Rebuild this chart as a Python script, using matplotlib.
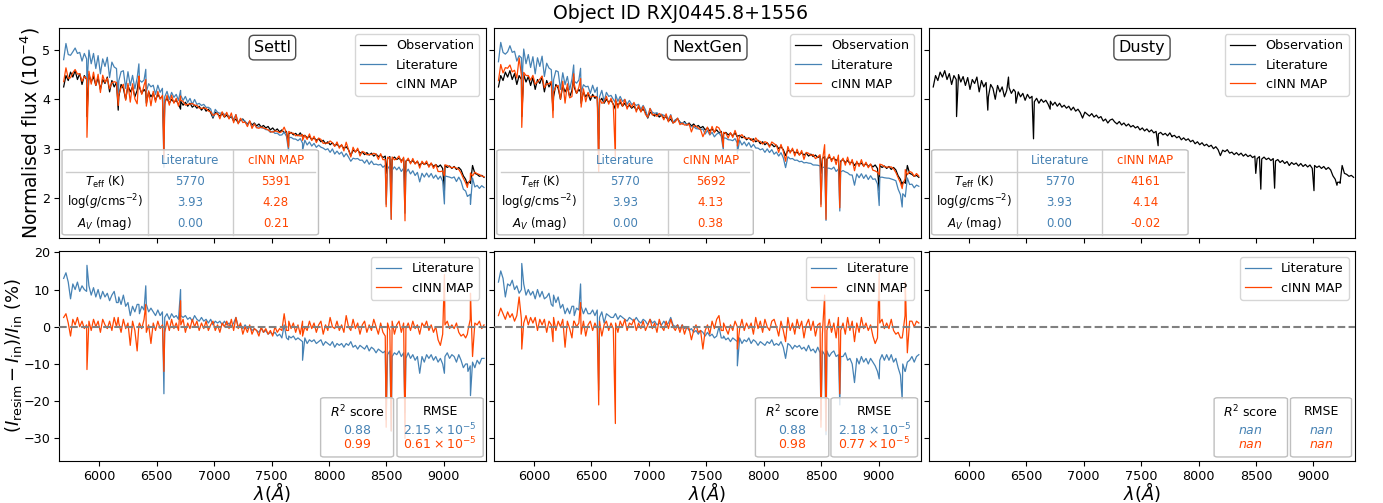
import numpy as np
import matplotlib
matplotlib.use("Agg")
import matplotlib.pyplot as plt
from matplotlib.patches import FancyBboxPatch

wave = [5690, 5710, 5730, 5750, 5770, 5790, 5810, 5830, 5850, 5870,
        5890, 5910, 5930, 5950, 5970, 5990, 6010, 6030, 6050, 6070,
        6090, 6110, 6130, 6150, 6170, 6190, 6210, 6230, 6250, 6270,
        6290, 6310, 6330, 6350, 6370, 6390, 6410, 6430, 6450, 6470,
        6490, 6510, 6530, 6550, 6570, 6590, 6610, 6630, 6650, 6670,
        6690, 6710, 6730, 6750, 6770, 6790, 6810, 6830, 6850, 6870,
        6890, 6910, 6930, 6950, 6970, 6990, 7010, 7030, 7050, 7070,
        7090, 7110, 7130, 7150, 7170, 7190, 7210, 7230, 7250, 7270,
        7290, 7310, 7330, 7350, 7370, 7390, 7410, 7430, 7450, 7470,
        7490, 7510, 7530, 7550, 7570, 7590, 7610, 7630, 7650, 7670,
        7690, 7710, 7730, 7750, 7770, 7790, 7810, 7830, 7850, 7870,
        7890, 7910, 7930, 7950, 7970, 7990, 8010, 8030, 8050, 8070,
        8090, 8110, 8130, 8150, 8170, 8190, 8210, 8230, 8250, 8270,
        8290, 8310, 8330, 8350, 8370, 8390, 8410, 8430, 8450, 8470,
        8490, 8510, 8530, 8550, 8570, 8590, 8610, 8630, 8650, 8670,
        8690, 8710, 8730, 8750, 8770, 8790, 8810, 8830, 8850, 8870,
        8890, 8910, 8930, 8950, 8970, 8990, 9010, 9030, 9050, 9070,
        9090, 9110, 9130, 9150, 9170, 9190, 9210, 9230, 9250, 9270,
        9290, 9310, 9330, 9350]

# observed flux (1e-4), continuum part
obs = [4.25, 4.48, 4.38, 4.55, 4.45, 4.58, 4.40, 4.52, 4.30, 4.48,
       4.40, 4.50, 4.35, 4.46, 4.28, 4.44, 4.20, 4.40, 4.32, 4.45,
       4.15, 4.38, 4.25, 4.34, 4.05, 4.30, 4.22, 4.00, 4.28, 4.15,
       4.25, 4.05, 4.18, 4.24, 4.12, 4.20, 3.92, 4.15, 4.05, 4.12,
       3.98, 4.10, 4.02, 4.06, 3.95, 4.02, 3.92, 4.00, 3.94, 3.98,
       3.90, 3.96, 3.88, 3.94, 3.86, 3.92, 3.84, 3.88, 3.82, 3.86,
       3.78, 3.84, 3.76, 3.80, 3.73, 3.62, 3.74, 3.70, 3.66, 3.71,
       3.64, 3.68, 3.62, 3.65, 3.56, 3.60, 3.52, 3.58, 3.60, 3.54,
       3.50, 3.55, 3.48, 3.52, 3.46, 3.50, 3.44, 3.47, 3.42, 3.45,
       3.38, 3.42, 3.36, 3.40, 3.34, 3.38, 3.32, 3.35, 3.30, 3.33,
       3.28, 3.31, 3.26, 3.32, 3.24, 3.27, 3.22, 3.25, 3.18, 3.22,
       3.17, 3.20, 3.14, 3.17, 3.10, 3.14, 3.08, 3.12, 3.06, 3.09,
       3.04, 3.07, 3.00, 3.04, 2.98, 2.86, 2.97, 2.94, 2.98, 2.91,
       2.93, 2.88, 2.92, 2.87, 2.91, 2.85, 2.89, 2.84, 2.87, 2.82,
       2.85, 2.80, 2.84, 2.79, 2.83, 2.78, 2.81, 2.76, 2.80, 2.75,
       2.78, 2.72, 2.76, 2.70, 2.74, 2.66, 2.72, 2.68, 2.71, 2.65,
       2.70, 2.64, 2.68, 2.63, 2.67, 2.60, 2.66, 2.62, 2.65, 2.60,
       2.64, 2.58, 2.62, 2.57, 2.45, 2.38, 2.32, 2.32, 2.66, 2.50,
       2.48, 2.44, 2.46, 2.42]

# relative residuals (%) of the resimulated spectra, continuum part
res_lit_settl = [13.0, 14.5, 12.0, 7.5, 11.5, 10.0, 12.0, 9.5, 11.0, 10.0,
                 9.5, 11.0, 8.5, 10.5, 8.0, 10.0, 7.5, 9.5, 8.0, 9.0,
                 7.0, 8.5, 9.5, 6.5, 8.0, 6.0, 8.5, 5.5, 6.5, 3.0,
                 5.5, 4.0, 6.0, 3.5, 5.5, 4.5, 6.0, 4.0, 5.0, 4.0,
                 3.0, 4.5, 3.0, 4.0, 2.5, 3.5, 2.0, 3.5, 2.5, 3.0,
                 2.0, 3.0, 2.5, 3.0, 2.0, 2.5, 1.5, 3.0, 2.0, 1.5,
                 2.5, 1.5, 2.0, 1.0, 2.0, 0.5, 1.5, 1.0, 1.5, 0.5,
                 1.5, 0.5, 1.0, 0.0, 1.0, 2.5, 0.0, 0.5, -0.5, 0.5,
                 -0.5, 0.0, -1.0, -0.5, -1.0, -1.5, -0.5, -1.5, -1.0, -2.0,
                 -1.5, -2.0, -1.5, -2.5, -2.0, -3.0, 0.5, -3.0, -2.5, -3.0,
                 -2.5, -3.5, -3.0, -3.5, -4.0, -3.0, -4.5, -3.5, -4.0, -3.5,
                 -4.5, -4.0, -3.5, -5.0, -4.0, -4.5, -5.0, -4.0, -5.5, -4.5,
                 -5.0, -4.5, -5.5, -4.5, -5.0, -4.0, -5.5, -5.0, -6.0, -5.0,
                 -5.5, -6.0, -5.0, -6.5, -5.5, -6.0, -7.0, -6.0, -6.5, -7.0,
                 -6.5, -7.5, -6.5, -8.0, -7.0, -7.5, -6.5, -8.0, -7.0, -8.5,
                 -7.0, -8.5, -7.5, -9.0, -8.0, -12.5, -8.0, -9.5, -7.5, -8.5,
                 -7.5, -9.0, -8.0, -9.5, -8.5, -10.0, -8.0, -7.0, -8.5, -7.5,
                 -8.0, -9.5, -7.5, -9.0, -11.0, -10.0, -12.0, -10.5, -9.5, -11.0,
                 -9.0, -10.0, -8.5, -8.5]

res_cinn_settl = [2.5, 3.5, 1.0, -2.5, 2.0, 0.5, 2.5, 0.0, 1.5, -0.5,
                  0.5, 1.5, -1.0, 2.0, 0.0, 1.5, -1.5, 2.0, 0.5, -0.5,
                  1.5, -1.0, 2.5, 0.0, 1.0, -1.5, 2.0, -0.5, 1.0, -5.0,
                  1.5, -1.0, -6.5, 1.0, -0.5, 2.0, -1.5, 0.5, -4.5, 1.0,
                  -1.0, 1.5, -0.5, 0.5, -1.5, 1.5, -1.0, 2.0, -0.5, 1.0,
                  -1.0, 0.5, 2.0, -1.5, 1.0, -0.5, 2.0, 0.0, 1.5, -1.0,
                  1.0, -0.5, 1.5, -1.0, 0.5, 1.5, -1.0, 0.5, -1.5, 1.0,
                  0.0, 1.5, -0.5, 2.0, -1.0, 2.5, -0.5, 1.0, -2.0, 0.0,
                  -1.5, 0.5, -2.0, -0.5, -1.0, -2.5, 0.0, -1.5, -0.5, -2.0,
                  -1.0, -2.5, 0.0, -1.5, -0.5, -1.0, 3.5, -1.0, 1.5, -0.5,
                  1.0, -1.5, 0.5, -2.0, 1.5, 0.0, -1.0, 1.5, -0.5, 1.0,
                  -1.5, 0.5, 1.5, -2.0, 0.5, -1.0, 2.5, 0.0, -0.5, 1.5,
                  -1.0, 0.5, -1.5, 3.0, 0.0, -1.0, 2.0, -0.5, 1.0, -2.0,
                  0.5, 1.5, -1.5, 0.5, -1.0, 2.0, 0.0, -2.0, 1.0, -1.5,
                  -2.5, 1.0, -1.0, 1.5, -2.0, 0.5, 1.5, -1.5, 1.0, -0.5,
                  1.0, -1.0, 1.5, -0.5, 0.5, -2.0, 1.0, 0.0, 1.5, -1.0,
                  0.5, -1.5, 0.0, -3.5, -5.0, -2.0, 0.5, 1.5, -0.5, 0.5,
                  -0.5, 1.0, -1.5, -2.5, -2.0, -3.0, -1.0, 2.0, -8.0, 1.0,
                  0.5, 1.5, -0.5, 0.5]

res_lit_nextgen = [12.0, 15.0, 13.0, 8.0, 11.5, 11.0, 12.5, 10.0, 11.0, 9.0,
                   10.0, 11.5, 8.5, 10.0, 8.5, 9.5, 7.5, 10.0, 8.0, 9.5,
                   7.5, 8.0, 9.0, 6.0, 8.5, 6.5, 8.0, 5.0, 6.0, 3.5,
                   5.0, 3.5, 5.5, 3.0, 5.0, 4.5, 5.5, 3.5, 5.0, 3.5,
                   3.5, 4.5, 3.0, 4.5, 2.5, 4.0, 1.0, 3.5, 3.0, 2.5,
                   2.5, 3.5, 2.0, 3.0, 2.5, 2.0, 1.5, 2.5, 2.0, 1.5,
                   2.5, 1.5, 1.0, 2.0, 1.5, 0.5, 2.0, 1.0, 1.5, 0.5,
                   1.0, 0.5, 1.5, 0.5, 1.0, 2.5, 0.5, 0.0, 0.5, -0.5,
                   0.5, -0.5, 0.0, -1.0, -0.5, -1.5, -1.0, -2.0, -1.0, -1.5,
                   -2.5, -1.5, -2.5, -2.0, -3.0, -2.5, 0.0, -3.0, -2.5, -3.5,
                   -3.0, -4.0, -3.0, -3.5, -4.0, -3.0, -4.5, -3.5, -4.0, -3.0,
                   -4.5, -3.5, -4.0, -5.0, -4.0, -4.5, -5.0, -4.0, -4.5, -3.5,
                   -5.0, -4.5, -5.0, -4.0, -5.5, -8.5, -4.5, -5.0, -6.0, -5.0,
                   -5.5, -5.0, -6.0, -5.5, -6.5, -5.0, -6.5, -6.0, -7.0, -5.5,
                   -7.0, -6.5, -7.5, -6.5, -8.0, -7.0, -6.5, -8.0, -7.5, -8.0,
                   -8.0, -7.0, -9.0, -8.5, -10.0, -15.0, -8.5, -10.0, -8.0, -9.5,
                   -8.5, -10.0, -8.5, -9.5, -10.5, -12.0, -9.0, -7.5, -9.0, -7.5,
                   -9.0, -7.5, -9.5, -8.5, -11.0, -13.0, -10.0, -12.0, -9.5, -9.0,
                   -8.0, -9.5, -8.0, -7.5]

res_cinn_nextgen = [3.0, 5.0, 3.5, 2.0, 4.0, 2.5, 3.5, 1.5, 3.0, 8.0,
                    2.0, 1.0, 3.0, 0.5, 2.5, 1.0, 2.5, -1.0, 2.0, 0.5,
                    2.0, -1.5, 1.5, 0.5, 2.5, -1.0, 1.5, 0.0, 2.0, -5.5,
                    1.5, -0.5, -3.0, 1.5, 0.0, 1.0, -2.0, 1.5, -2.5, 0.5,
                    1.5, -1.0, 1.0, -0.5, 1.5, -2.5, 0.5, 1.5, -1.0, 1.0,
                    -0.5, 1.0, -1.5, 1.5, 0.0, 2.0, -1.0, 1.0, 0.5, 2.0,
                    -1.0, 1.0, -0.5, 1.5, -1.0, 0.5, 2.0, -0.5, 1.0, -1.5,
                    2.0, 0.0, -1.0, 1.5, -0.5, 2.0, 0.0, -1.0, 0.5, -1.5,
                    0.5, -2.0, 0.0, -0.5, -3.5, -1.0, 0.5, -1.5, -1.0, -6.0,
                    -1.0, 0.5, -2.0, 1.5, -0.5, 2.0, 3.0, -1.0, 1.0, -0.5,
                    -2.0, 0.5, -1.0, 1.5, 0.0, -0.5, 2.0, -1.0, 1.0, -0.5,
                    1.0, -2.0, 2.5, -0.5, 1.5, -1.5, 2.0, 0.0, -1.0, 1.5,
                    2.0, 0.0, -2.5, 1.5, -1.0, -4.0, 2.5, -1.0, 1.0, -2.0,
                    2.0, -0.5, 1.5, -3.0, 0.5, 2.0, -1.0, 1.5, -2.5, 0.5,
                    1.0, -2.0, 8.5, -1.0, 2.0, -1.5, 1.0, -3.0, 2.5, -1.0,
                    1.0, -2.0, 2.5, -1.0, 1.5, -4.0, 1.0, -1.5, 2.5, -0.5,
                    1.0, -1.0, 0.5, -2.5, -4.5, -3.0, 1.0, 2.0, -0.5, 1.0,
                    -0.5, 2.0, -1.0, -2.0, -1.5, -3.0, -2.0, 3.0, -7.0, 1.5,
                    1.5, 0.0, 1.5, 1.0]

# narrow spectral features (Na D, H-alpha, Li, Ca II triplet, telluric ...)
line_wave = [5893, 6165, 6345, 6405, 6563, 6708, 7648, 7770, 8498, 8542, 8662, 9005, 9205, 9232]
line_obs = [3.65, 3.78, 4.45, 4.15, 3.20, 3.80, 3.06, 3.25, 2.50, 2.18, 2.20, 2.15, 2.26, 2.30]
line_lit_settl = [16.5, 6.5, 6.0, 11.0, -18.0, 10.0, -3.5, -9.0, -25.0, -28.0, -23.0, -12.5, -10.0, -18.5]
line_cinn_settl = [-11.5, 2.5, 0.5, 6.0, -12.0, 7.0, -1.0, -2.5, -27.0, -28.0, -30.0, 14.0, -2.0, 9.0]
line_lit_nextgen = [17.0, 5.5, 5.5, 11.5, -17.0, 3.5, -3.0, -10.5, -25.0, -29.0, -21.0, -14.0, -19.5, -12.0]
line_cinn_nextgen = [-6.0, -4.0, 1.5, 6.5, -21.0, -26.0, -1.0, -6.0, -27.0, -28.0, -18.0, 15.0, -3.0, 12.0]

models = ['Settl', 'NextGen', 'Dusty']
teff_lit = [5770, 5770, 5770]
teff_cinn = [5391, 5692, 4161]
logg_lit = [3.93, 3.93, 3.93]
logg_cinn = [4.28, 4.13, 4.14]
av_lit = [0.00, 0.00, 0.00]
av_cinn = [0.21, 0.38, -0.02]
r2_lit = [0.88, 0.88, np.nan]
r2_cinn = [0.99, 0.98, np.nan]
rmse_lit = [2.15, 2.18, np.nan]
rmse_cinn = [0.61, 0.77, np.nan]

C_LIT = 'steelblue'
C_CINN = 'orangered'

# merge continuum samples with the line samples, sorted by wavelength
order = np.argsort(np.concatenate([wave, line_wave]))


def merged(base, lines):
    return np.concatenate([base, lines])[order]


lam = merged(wave, line_wave)
flux = merged(obs, line_obs)
res_lit = [merged(res_lit_settl, line_lit_settl), merged(res_lit_nextgen, line_lit_nextgen), None]
res_cinn = [merged(res_cinn_settl, line_cinn_settl), merged(res_cinn_nextgen, line_cinn_nextgen), None]


def fmt_rmse(v):
    if np.isnan(v):
        return r'$nan$'
    return r'$%.2f\times10^{-5}$' % v


def framed_box(ax, x0, y0, w, h):
    box = FancyBboxPatch((x0, y0), w, h, boxstyle='round,pad=0,rounding_size=0.008',
                         transform=ax.transAxes, fc=(1, 1, 1, 0.8), ec='0.75',
                         lw=1.0, zorder=4)
    ax.add_patch(box)


def draw_table(ax, i):
    framed_box(ax, 0.007, 0.013, 0.601, 0.405)
    ax.plot([0.016, 0.599], [0.313, 0.313], transform=ax.transAxes,
            color='0.8', lw=1.0, zorder=5)
    for xv in [0.208, 0.407]:
        ax.plot([xv, xv], [0.013, 0.418], transform=ax.transAxes,
                color='0.8', lw=1.0, zorder=5)
    kw = dict(transform=ax.transAxes, ha='center', va='center', fontsize=8.5, zorder=6)
    ax.text(0.307, 0.365, 'Literature', color=C_LIT, **kw)
    ax.text(0.508, 0.365, 'cINN MAP', color=C_CINN, **kw)
    labels = [r'$T_{\rm eff}$ (K)', r'$\log(g/\rm cms^{-2})$', r'$A_V$ (mag)']
    lit = ['%d' % teff_lit[i], '%.2f' % logg_lit[i], '%.2f' % av_lit[i]]
    cinn = ['%d' % teff_cinn[i], '%.2f' % logg_cinn[i], '%.2f' % av_cinn[i]]
    for lab, a, b, yv in zip(labels, lit, cinn, [0.267, 0.167, 0.068]):
        ax.text(0.107, yv, lab, color='black', **kw)
        ax.text(0.307, yv, a, color=C_LIT, **kw)
        ax.text(0.508, yv, b, color=C_CINN, **kw)


def draw_scores(ax, i, r2_box, rmse_box):
    kw = dict(transform=ax.transAxes, ha='center', va='center', fontsize=9, zorder=6)
    for (x0, x1), title, a, b in [
            (r2_box, r'$R^2$ score', r'$%.2f$' % r2_lit[i], r'$%.2f$' % r2_cinn[i]),
            (rmse_box, 'RMSE', fmt_rmse(rmse_lit[i]), fmt_rmse(rmse_cinn[i]))]:
        framed_box(ax, x0, 0.018, x1 - x0, 0.282)
        xc = 0.5 * (x0 + x1)
        ax.text(xc, 0.234, title, color='black', **kw)
        ax.text(xc, 0.146, a, color=C_LIT, **kw)
        ax.text(xc, 0.078, b, color=C_CINN, **kw)


fig, axes = plt.subplots(2, 3, figsize=(13.83, 5.03), dpi=100, sharex=True, sharey='row')
fig.subplots_adjust(left=0.0427, right=0.980, top=0.945, bottom=0.084,
                    wspace=0.019, hspace=0.063)

score_boxes = [((0.613, 0.784), (0.792, 0.994)),
               ((0.613, 0.785), (0.790, 0.993)),
               ((0.669, 0.841), (0.848, 0.991))]

LW = 0.9
for i, name in enumerate(models):
    ax = axes[0, i]
    ax.plot(lam, flux, color='black', lw=LW, label='Observation')
    if res_lit[i] is not None:
        ax.plot(lam, flux * (1 + res_lit[i] / 100), color=C_LIT, lw=LW, label='Literature')
        ax.plot(lam, flux * (1 + res_cinn[i] / 100), color=C_CINN, lw=LW, label='cINN MAP')
    else:
        ax.plot([], [], color=C_LIT, lw=LW, label='Literature')
        ax.plot([], [], color=C_CINN, lw=LW, label='cINN MAP')
    ax.legend(loc='upper right', fontsize=9.2)
    ax.text(0.5, 0.905, name, transform=ax.transAxes, ha='center', va='center',
            fontsize=11.5, bbox=dict(boxstyle='round,pad=0.3', fc='white', ec='0.3'))
    draw_table(ax, i)

    ax = axes[1, i]
    if res_lit[i] is not None:
        ax.plot(lam, res_lit[i], color=C_LIT, lw=LW, label='Literature')
        ax.plot(lam, res_cinn[i], color=C_CINN, lw=LW, label='cINN MAP')
    else:
        ax.plot([], [], color=C_LIT, lw=LW, label='Literature')
        ax.plot([], [], color=C_CINN, lw=LW, label='cINN MAP')
    ax.axhline(0, color='grey', ls='--', lw=1.5, zorder=3)
    ax.legend(loc='upper right', fontsize=9.2)
    draw_scores(ax, i, *score_boxes[i])
    ax.set_xlabel(r'$\lambda(Å)$', fontsize=13)
    ax.xaxis.set_label_coords(0.5, -0.092)

for ax in axes.flat:
    ax.tick_params(labelsize=9.2, pad=3)

axes[0, 0].set_xlim(5650, 9365)
axes[0, 0].set_ylim(1.2, 5.45)
axes[1, 0].set_ylim(-36, 20.4)
axes[0, 0].set_yticks([2, 3, 4, 5])
axes[1, 0].set_yticks([-30, -20, -10, 0, 10, 20])
axes[1, 0].set_xticks([6000, 6500, 7000, 7500, 8000, 8500, 9000])
axes[0, 0].set_ylabel(r'Normalised flux $(10^{-4})$', fontsize=13.5)
axes[1, 0].set_ylabel(r'$(I_{\rm resim} - I_{\rm in})/I_{\rm in}$ (%)', fontsize=13)
axes[0, 0].yaxis.set_label_coords(-0.040, 0.5)
axes[1, 0].yaxis.set_label_coords(-0.081, 0.5)
fig.suptitle('Object ID RXJ0445.8+1556', fontsize=13.6, x=0.492, y=0.992)

fig.savefig('out.png', dpi=100)
